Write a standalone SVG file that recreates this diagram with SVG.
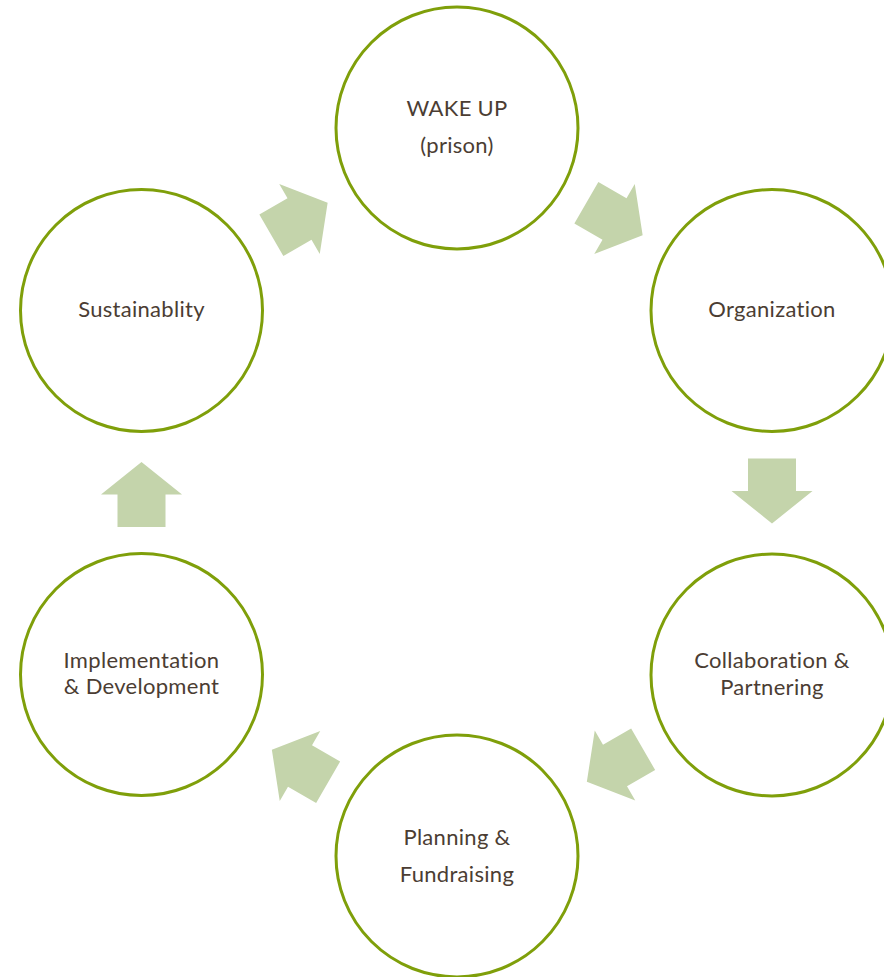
<svg xmlns="http://www.w3.org/2000/svg" xmlns:xlink="http://www.w3.org/1999/xlink" width="884" height="977" viewBox="0 0 884 977">
<style>
.node{fill:#ffffff;stroke:#7f9f0a;stroke-width:3}
.lbl{font-family:Lato,"Open Sans","Liberation Sans",sans-serif;font-size:22px;letter-spacing:0.3px;font-variant-ligatures:none;fill:#4b3d33;text-anchor:middle}
.arr{fill:#c4d4ab}
</style>
<defs>
<path id="arrow" class="arr" d="M0,-32.5 L40.5,0 L24,0 L24,32.5 L-24,32.5 L-24,0 L-40.5,0 Z"/>
</defs>
<rect width="884" height="977" fill="#ffffff"/>
<g id="connectors">
<use xlink:href="#arrow" transform="translate(299.5,219) rotate(60)"/>
<use xlink:href="#arrow" transform="translate(614.5,219) rotate(120)"/>
<use xlink:href="#arrow" transform="translate(772,491) rotate(180)"/>
<use xlink:href="#arrow" transform="translate(615,765.5) rotate(240)"/>
<use xlink:href="#arrow" transform="translate(300,766) rotate(300)"/>
<use xlink:href="#arrow" transform="translate(141.5,494.5)"/>
</g>
<g id="wakeup">
<circle class="node" cx="457" cy="128" r="121"/>
<text class="lbl" x="457" y="116">WAKE UP</text>
<text class="lbl" x="457" y="153">(prison)</text>
</g>
<g id="organization">
<circle class="node" cx="772" cy="310.5" r="121"/>
<text class="lbl" x="772" y="317">Organization</text>
</g>
<g id="collaboration">
<circle class="node" cx="772" cy="675" r="121"/>
<text class="lbl" x="772" y="668">Collaboration &amp;</text>
<text class="lbl" x="772" y="695">Partnering</text>
</g>
<g id="planning">
<circle class="node" cx="457" cy="856" r="121"/>
<text class="lbl" x="457" y="845">Planning &amp;</text>
<text class="lbl" x="457" y="882">Fundraising</text>
</g>
<g id="implementation">
<circle class="node" cx="141.5" cy="674.5" r="121"/>
<text class="lbl" x="141.5" y="668">Implementation</text>
<text class="lbl" x="141.5" y="694">&amp; Development</text>
</g>
<g id="sustainability">
<circle class="node" cx="141.5" cy="310.5" r="121"/>
<text class="lbl" x="141.5" y="317">Sustainablity</text>
</g>
</svg>
